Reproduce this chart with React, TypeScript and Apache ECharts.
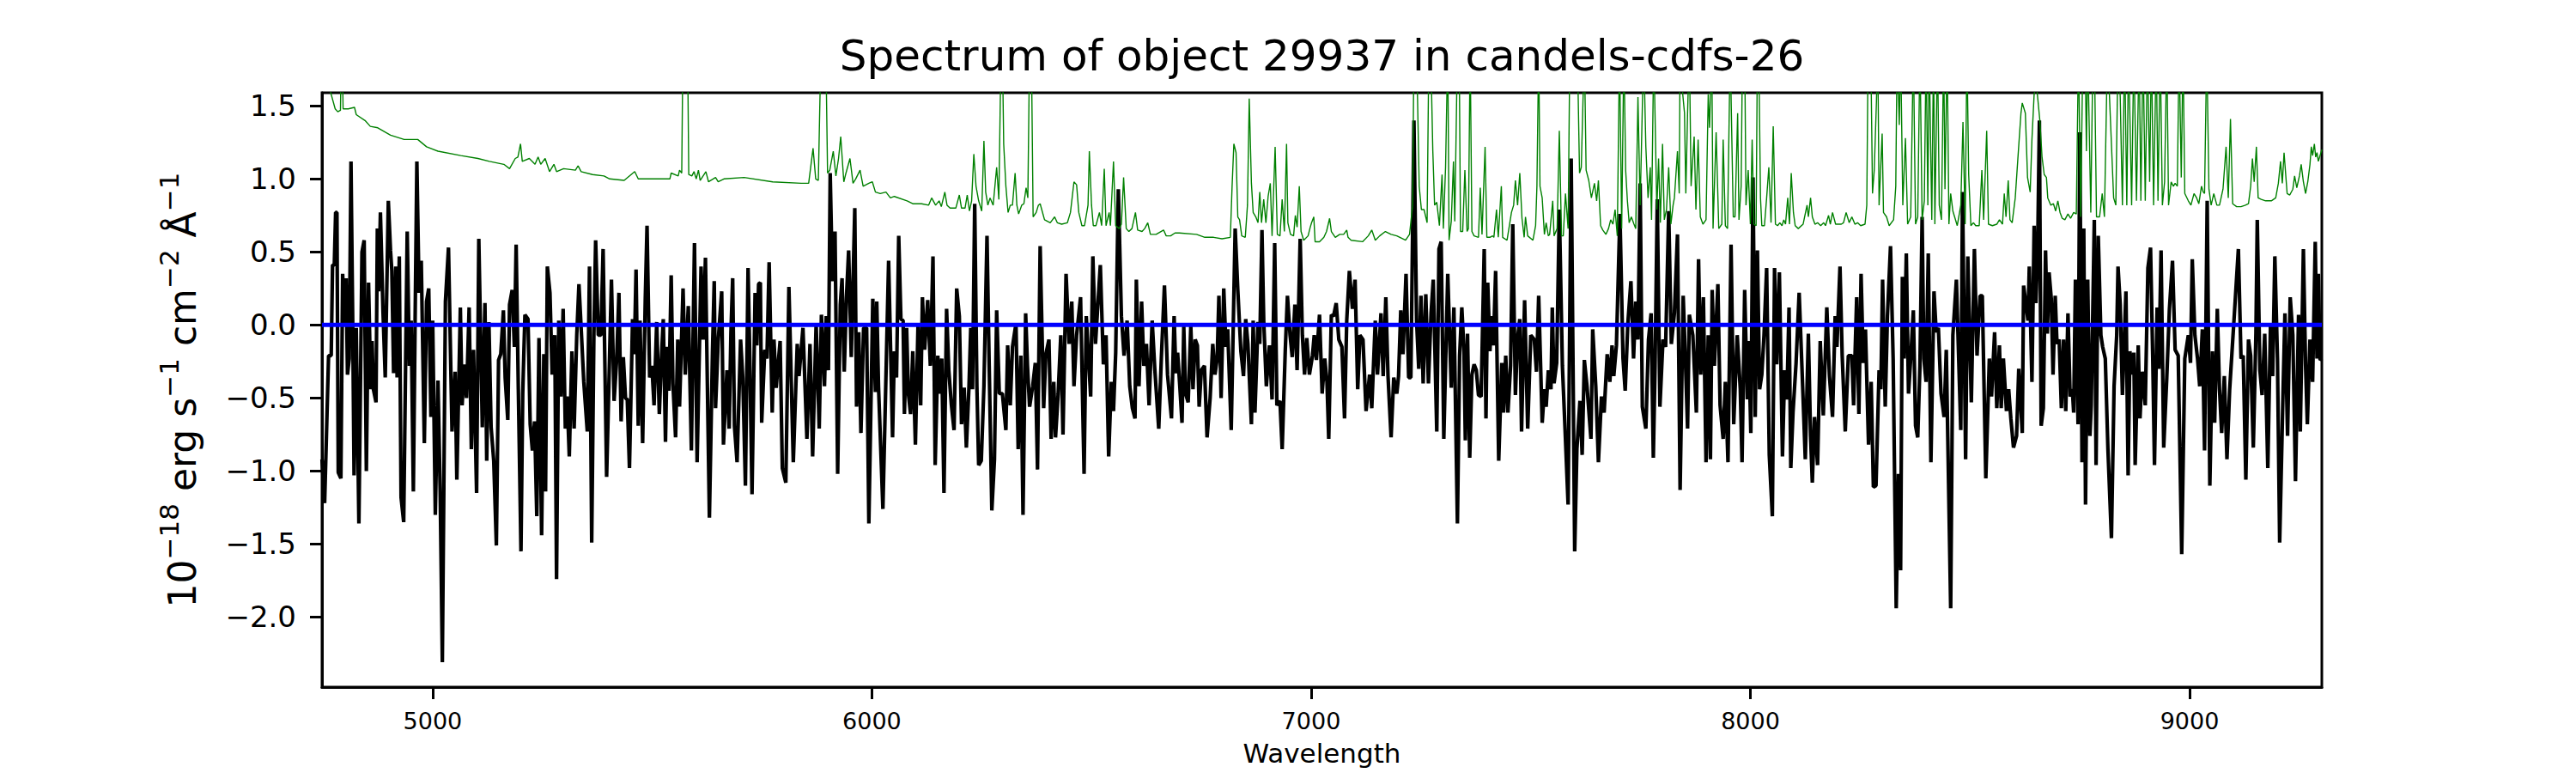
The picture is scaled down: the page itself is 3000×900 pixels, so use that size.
import React, { useEffect, useRef } from "react";
import * as echarts from "echarts";

// ---- Data ----
const titleText = "Spectrum of object 29937 in candels-cdfs-26";
const xAxisTitle = "Wavelength";
const xTicks = [5000, 6000, 7000, 8000, 9000];
const yTicks = [-2.0, -1.5, -1.0, -0.5, 0.0, 0.5, 1.0, 1.5];
const xMin = 4748;
const xMax = 9301;
const yMin = -2.48;
const yMax = 1.59;

const fluxWave = [
  4748, 4754, 4763, 4769, 4772, 4776, 4779, 4782, 4785, 4791, 4795, 4800, 4803, 4806, 4810, 4814, 4818, 4821, 4826, 4832,
  4839, 4844, 4849, 4854, 4859, 4862, 4865, 4871, 4874, 4877, 4881, 4887, 4892, 4899, 4904, 4907, 4911, 4916, 4919, 4924,
  4928, 4934, 4942, 4947, 4951, 4956, 4960, 4964, 4969, 4974, 4981, 4986, 4991, 4996, 5000, 5006, 5012, 5017, 5022, 5029,
  5036, 5044, 5051, 5055, 5063, 5067, 5072, 5077, 5083, 5088, 5093, 5100, 5105, 5113, 5119, 5123, 5128, 5133, 5139, 5145,
  5150, 5155, 5161, 5165, 5171, 5175, 5181, 5186, 5190, 5195, 5201, 5205, 5210, 5217, 5222, 5227, 5232, 5237, 5242, 5248,
  5253, 5257, 5261, 5267, 5272, 5278, 5282, 5287, 5292, 5297, 5302, 5306, 5311, 5317, 5322, 5328, 5333, 5338, 5344, 5352,
  5357, 5362, 5367, 5371, 5377, 5383, 5388, 5396,
  5407, 5413, 5419, 5424, 5429, 5434, 5439, 5443, 5448, 5455, 5459, 5463, 5468, 5472, 5478, 5484, 5488, 5494, 5499, 5504,
  5510, 5516, 5520, 5525, 5530, 5534, 5538, 5543, 5547, 5553, 5558, 5562, 5570, 5575, 5582, 5589, 5596, 5602, 5611, 5616,
  5621, 5630, 5637, 5641, 5644, 5650, 5658, 5662, 5670, 5675, 5679, 5683, 5687, 5693, 5701, 5706, 5712, 5718, 5722, 5727,
  5734, 5738, 5742, 5746, 5749, 5756, 5761, 5766, 5773, 5777, 5782, 5791, 5796, 5804, 5811, 5821, 5830, 5834, 5843, 5852,
  5859, 5865, 5873, 5880, 5885, 5892, 5896, 5901, 5905, 5910, 5916, 5922, 5928, 5932, 5937, 5942, 5947, 5953, 5961, 5965,
  5970, 5975, 5981, 5988, 5993, 6002, 6008, 6011, 6015, 6025, 6038, 6047,
  6051, 6056, 6061, 6066, 6071, 6074, 6079, 6083, 6088, 6093, 6099, 6105, 6111, 6115, 6120, 6127, 6133, 6139, 6144, 6150,
  6154, 6159, 6164, 6170, 6175, 6181, 6187, 6193, 6199, 6204, 6210, 6215, 6221, 6225, 6229, 6234, 6239, 6243, 6249, 6255,
  6262, 6267, 6273, 6279, 6284, 6290, 6297, 6305, 6309, 6315, 6320, 6328, 6333, 6339, 6344, 6350, 6354, 6359, 6366, 6372,
  6377, 6383, 6391, 6396, 6403, 6408, 6414, 6418, 6424, 6430, 6435, 6442, 6449, 6455, 6460, 6466, 6475, 6483, 6488, 6498,
  6503, 6509, 6514, 6520, 6527, 6533, 6539, 6545, 6550, 6555, 6561, 6568, 6574, 6581, 6587, 6593, 6599, 6602, 6608, 6614,
  6619, 6625, 6631, 6638, 6644, 6653, 6659, 6666, 6673, 6682, 6688,
  6692, 6696, 6701, 6706, 6710, 6714, 6720, 6726, 6731, 6736, 6741, 6745, 6750, 6757, 6763, 6770, 6776, 6781, 6786, 6790,
  6795, 6801, 6806, 6810, 6818, 6827, 6833, 6840, 6846, 6851, 6856, 6859, 6864, 6868, 6872, 6879, 6883, 6888, 6892, 6898,
  6905, 6911, 6917, 6922, 6929, 6934, 6941, 6946, 6952, 6957, 6963, 6968, 6975, 6980, 6985, 6990, 6996, 7003, 7007, 7012,
  7019, 7025, 7031, 7036, 7040, 7046, 7051, 7057, 7063, 7070, 7076, 7081, 7087, 7094, 7100, 7106, 7111, 7118, 7125, 7133,
  7138, 7146, 7151, 7159, 7164, 7170, 7175, 7182, 7188, 7195, 7199, 7204, 7209, 7216, 7222, 7227, 7234, 7240, 7245, 7250,
  7255, 7261, 7267, 7273, 7278, 7286, 7291, 7296, 7302, 7311, 7319, 7325, 7333,
  7338, 7343, 7348, 7351, 7356, 7361, 7366, 7371, 7376, 7381, 7387, 7394, 7398, 7402, 7407, 7411, 7415, 7420, 7427, 7434,
  7438, 7443, 7448, 7454, 7459, 7465, 7470, 7475, 7479, 7486, 7493, 7500, 7508, 7513, 7518, 7526, 7531, 7535, 7540, 7546,
  7549, 7553, 7559, 7565, 7572, 7578, 7585, 7592, 7600, 7605, 7612, 7617, 7622, 7628, 7637, 7641, 7648, 7654, 7661, 7667,
  7674, 7680, 7685, 7689, 7695, 7703, 7710, 7715, 7721, 7728, 7734, 7739, 7744, 7749, 7754, 7762, 7768, 7774, 7779, 7783,
  7788, 7794, 7801, 7807, 7814, 7820, 7827, 7834, 7840, 7847, 7852, 7857, 7861, 7869, 7877, 7882, 7887, 7893, 7899, 7904,
  7909, 7913, 7918, 7926, 7931, 7938, 7943, 7949, 7956, 7962, 7970, 7977, 7981,
  7987, 7993, 7996, 8001, 8006, 8011, 8016, 8021, 8026, 8031, 8037, 8043, 8050, 8055, 8060, 8066, 8073, 8078, 8083, 8088,
  8092, 8097, 8104, 8111, 8119, 8125, 8132, 8137, 8141, 8146, 8153, 8159, 8166, 8174, 8180, 8187, 8193, 8197, 8204, 8209,
  8216, 8223, 8231, 8235, 8242, 8247, 8252, 8257, 8262, 8269, 8275, 8280, 8286, 8293, 8297, 8301, 8307, 8312, 8319, 8325,
  8332, 8337, 8342, 8346, 8350, 8355, 8360, 8366, 8371, 8376, 8381, 8386, 8391, 8395, 8400, 8405, 8411, 8418, 8423, 8428,
  8434, 8441, 8446, 8456, 8461, 8469, 8479, 8483, 8490, 8495, 8503, 8510, 8516, 8523, 8528, 8536, 8544, 8549, 8556, 8561,
  8567, 8571, 8576, 8583, 8588, 8593, 8599, 8606, 8611, 8619, 8622,
  8632, 8635, 8641, 8646, 8650, 8654, 8658, 8662, 8667, 8672, 8676, 8680, 8685, 8689, 8694, 8698, 8703, 8708, 8713, 8718,
  8723, 8728, 8733, 8736, 8740, 8746, 8750, 8755, 8759, 8763, 8768, 8773, 8776, 8783, 8787, 8792, 8798, 8802, 8808, 8814,
  8822, 8828, 8834, 8837, 8842, 8847, 8855, 8860, 8864, 8869, 8873, 8876, 8883, 8887, 8892, 8899, 8905, 8911, 8916, 8920,
  8926, 8930, 8935, 8941, 8948, 8954, 8961, 8967, 8974, 8982, 8989, 8997, 9002, 9006, 9012, 9018, 9023, 9029, 9034, 9040,
  9046, 9052, 9057, 9063, 9068, 9073, 9079, 9085, 9091, 9098, 9102, 9111, 9117, 9122, 9128, 9134, 9139, 9145, 9151, 9154,
  9160, 9165, 9171, 9178, 9184, 9189, 9194, 9200, 9205, 9212, 9217, 9223, 9229, 9235, 9241, 9248, 9252, 9259, 9264, 9268,
  9274, 9280, 9286, 9290, 9293, 9297, 9301,
];

const fluxValue = [
  -0.92, -1.22, -0.21, -0.21, 0.41, 0.41, 0.77, 0.77, -1.01, -1.05, 0.35, 0.0, 0.32, -0.34, -0.23, 1.12, 0.0, -1.03, -0.02, -1.36,
  0.5, 0.58, -1.0, 0.29, -0.44, -0.11, -0.44, -0.53, 0.66, 0.23, 0.77, 0.08, -0.36, 0.85, 0.51, 0.37, -0.33, 0.4, -0.36, 0.47,
  -1.18, -1.35, 0.64, -0.28, 0.03, -1.14, 0.03, 1.12, 0.22, 0.44, -0.81, 0.16, 0.25, -0.63, 0.03, -1.3, -0.38, -1.13, -2.31, 0.16,
  0.53, -0.73, -0.32, -1.06, 0.12, -0.55, -0.27, -0.5, 0.12, -0.85, -0.17, -1.15, 0.59, -0.7, 0.15, -0.93, 0.02, -0.7, -0.93, -1.51,
  -0.24, -0.2, 0.1, -0.36, -0.65, 0.14, 0.24, -0.15, 0.55, -0.44, -1.55, -0.47, 0.07, 0.04, -0.68, -0.86, -0.66, -1.31, -0.09, -1.44,
  -0.2, -1.14, 0.4, 0.22, -0.34, -0.07, -1.74, 0.03, -0.49, 0.11, -0.71, -0.49, -0.9, -0.18, -0.71, -0.07, 0.28, -0.02, -0.39, -0.73,
  0.4, -1.49, -0.07, 0.58, -0.07, -0.07, 0.52, -1.04,
  0.31, -0.52, -0.23, 0.22, -0.66, -0.22, -0.5, -0.51, -0.98, 0.04, -0.2, 0.38, -0.69, 0.03, -0.81, 0.18, 0.68, -0.36, -0.28, -0.55,
  0.02, -0.61, -0.28, 0.04, -0.8, -0.15, -0.45, 0.34, -0.4, -0.77, -0.1, -0.56, 0.25, -0.34, 0.13, -0.86, 0.56, -0.94, 0.4, -0.1,
  0.46, -1.32, -0.18, 0.3, -0.57, -0.11, 0.23, -0.82, -0.31, -0.71, -0.05, 0.32, -0.69, -0.94, -0.1, -0.36, -1.1, 0.39, -0.23, -1.16,
  0.22, -0.14, 0.28, 0.29, -0.67, -0.17, -0.23, 0.43, -0.6, -0.1, -0.43, -0.11, -0.98, -1.08, 0.26, -0.94, -0.13, -0.35, -0.02, -0.78,
  -0.13, -0.9, 0.01, -0.71, 0.07, -0.42, 0.06, -0.31, 1.04, 0.3, 0.64, -1.02, 0.14, 0.32, -0.32, 0.19, 0.51, -0.22, 0.8, -0.56,
  -0.05, -0.74, -0.02, -0.02, -1.36, 0.18, -0.46, 0.16, -0.42, -1.26, 0.44, -0.77,
  -0.18, -0.36, 0.61, 0.04, 0.03, -0.61, -0.02, -0.47, -0.61, -0.18, -0.82, 0.01, -0.55, 0.19, -0.17, 0.17, -0.28, 0.47, -0.96, -0.21,
  -0.47, -0.23, -1.15, 0.11, -0.31, -0.55, -0.72, 0.25, 0.06, -0.68, -0.43, -0.84, -0.42, -0.02, -0.44, 0.83, -0.42, -0.96, -0.93, -0.42,
  0.61, -0.28, -1.27, -0.92, 0.1, -0.47, -0.47, -0.72, -0.14, -0.55, -0.15, 0.01, -0.85, -0.21, -1.3, 0.08, -0.27, -0.56, -0.42, -0.26,
  -0.99, 0.54, -0.57, -0.2, -0.1, -0.78, -0.39, -0.77, -0.47, -0.07, -0.75, 0.35, -0.13, 0.16, -0.42, -0.07, 0.19, -1.02, 0.06, -0.49,
  0.47, -0.13, 0.12, 0.41, -0.27, -0.07, -0.9, -0.39, -0.59, -0.19, 0.93, 0.06, -0.21, 0.03, -0.42, -0.57, -0.64, 0.31, -0.42, 0.16,
  -0.28, -0.13, -0.55, 0.03, -0.3, -0.71, -0.22, 0.27, -0.34, -0.64, 0.06,
  -0.33, -0.19, -0.42, -0.67, -0.01, -0.47, -0.53, -0.01, -0.44, -0.1, -0.14, -0.56, -0.31, -0.28, -0.77, -0.5, -0.13, -0.34, -0.23, 0.2,
  -0.5, 0.25, -0.15, -0.03, -0.72, 0.66, 0.24, -0.18, -0.35, 0.04, -0.13, -0.34, -0.68, 0.03, -0.6, 0.02, -0.13, 0.65, 0.03, -0.42,
  -0.14, -0.51, 0.56, -0.55, -0.52, -0.85, -0.18, 0.2, -0.07, -0.22, 0.14, -0.31, 0.59, -0.07, -0.34, -0.09, -0.34, -0.21, -0.07, -0.24,
  0.07, -0.47, -0.23, -0.39, -0.78, 0.07, 0.06, 0.15, -0.1, -0.15, -0.64, 0.03, 0.37, 0.11, 0.31, -0.44, -0.07, -0.1, -0.59, -0.34,
  -0.57, 0.03, -0.34, 0.08, -0.35, 0.19, -0.35, -0.77, -0.36, -0.47, -0.35, 0.1, -0.2, 0.35, -0.36, -0.36, 1.4, 0.03, -0.3, 0.2,
  -0.4, 0.21, -0.4, 0.08, 0.31, -0.73, 0.52, 0.57, -0.78, 0.35, -0.43, 0.12, -1.36,
  -0.21, 0.12, -0.18, -0.79, -0.06, -0.91, -0.34, -0.27, -0.31, -0.48, -0.49, 0.52, -0.64, 0.29, -0.18, 0.06, -0.14, 0.37, -0.93, -0.26,
  -0.6, -0.21, -0.6, -0.28, 0.69, -0.48, -0.09, 0.04, -0.73, 0.17, -0.71, -0.07, -0.1, -0.32, 0.2, -0.67, -0.44, -0.56, -0.31, -0.44,
  0.12, -0.4, -0.26, 0.79, -0.28, -0.71, -1.23, 1.14, -1.55, -0.85, -0.52, -0.89, -0.24, -0.42, -0.78, -0.03, -0.42, -0.94, -0.49, -0.6,
  -0.2, -0.39, -0.14, -0.35, -0.14, 0.76, -0.23, -0.45, 0.01, 0.3, -0.23, 0.16, -0.1, 0.97, -0.56, -0.71, -0.1, 0.08, -0.91, -0.28,
  0.86, -0.56, -0.1, -0.15, 0.78, -0.13, 0.08, 0.62, -1.13, 0.2, -0.23, -0.71, 0.07, -0.07, -0.6, 0.45, -0.34, 0.19, -0.94, -0.07,
  -0.92, 0.24, -0.28, 0.28, -0.55, -0.78, -0.39, -0.94, 0.55, -0.68, -0.07, -0.44, -0.94,
  0.24, -0.51, -0.11, -0.74, 1.01, -0.63, 0.51, -0.44, -0.34, -0.07, 0.39, -0.89, -1.31, 0.39, -0.27, 0.36, -0.9, -0.31, -0.51, 0.12,
  -0.98, -0.6, -0.26, 0.22, -0.42, -0.92, -0.06, -0.76, -1.08, -0.63, -0.96, -0.11, -0.62, 0.12, -0.35, -0.63, 0.06, -0.15, 0.4, -0.21,
  -0.73, -0.21, -0.21, -0.55, 0.19, -0.61, 0.35, -0.26, -0.03, -0.82, -0.39, -1.11, -1.1, -0.31, -0.44, 0.31, -0.56, 0.06, 0.54, -0.23,
  -1.94, -1.02, -1.68, 0.33, -0.23, 0.49, -0.47, -0.18, 0.1, -0.69, -0.77, -0.28, 0.74, -0.23, -0.39, 0.49, -0.94, 0.23, -0.05, -0.02,
  -0.47, -0.63, -0.17, -1.94, -0.07, 0.31, -0.72, 0.91, -0.92, 0.47, -0.53, 0.52, -0.21, 0.2, 0.2, -1.05, -0.23, -0.49, -0.05, -0.57,
  -0.14, -0.57, -0.23, -0.59, -0.44, -0.64, -0.84, -0.76, -0.3, -0.74, 0.27,
  0.03, 0.4, -0.39, 0.68, 0.15, 0.51, 1.4, -0.69, -0.57, 0.51, -0.06, 0.36, 0.18, -0.34, 0.2, -0.13, -0.1, -0.57, -0.1, -0.59,
  0.08, -0.49, -0.44, -0.6, 0.31, -0.68, 1.32, -0.94, 0.66, -1.23, 0.31, -0.76, -0.55, 0.72, -0.96, 0.61, -0.07, -0.15, -0.23, -0.85,
  -1.46, -0.42, -0.07, 0.4, 0.14, -0.48, 0.23, -1.03, -0.18, -0.34, -0.19, -0.96, -0.14, -0.64, -0.32, -0.55, 0.39, 0.53, -0.22, -0.96,
  0.12, -0.3, 0.51, -0.84, -0.36, 0.11, 0.44, -0.17, -0.21, -1.57, -0.23, -0.07, -0.26, 0.45, -0.07, -0.23, -0.42, -0.03, -0.86, 0.85,
  -1.1, -0.18, -0.67, 0.11, -0.44, -0.74, -0.35, -0.92, -0.45, -0.11, 0.08, 0.52, -0.23, -0.21, -1.06, -0.1, -0.21, -0.84, -0.05, 0.72,
  -0.31, -0.48, -0.06, -0.98, -0.01, -0.35, 0.47, -0.23, -1.49, -0.55, 0.08, -0.76, 0.19, -0.07, -1.07, 0.07, -0.73, 0.52, -0.28, -0.68,
  -0.1, -0.39, 0.57, -0.23, 0.35, -0.24, -0.23,
];

const errWave = [
  4748, 4767, 4778, 4784, 4790, 4792, 4794, 4796, 4808, 4822, 4826, 4846, 4858, 4875, 4904, 4935, 4966, 4986, 5012, 5064,
  5103, 5129, 5162, 5175, 5188, 5194, 5200, 5204, 5220, 5233, 5240, 5246, 5256, 5266, 5276, 5282, 5298, 5325, 5331, 5338,
  5364, 5390, 5403,
  5436, 5460, 5468, 5540, 5543, 5559, 5562, 5567, 5570, 5577, 5580, 5583, 5590, 5595, 5600, 5605, 5609, 5622, 5628, 5644,
  5650, 5663, 5709, 5774, 5839, 5856, 5866, 5872, 5878, 5884, 5895, 5899, 5904, 5912, 5918, 5924, 5929, 5936, 5940, 5950,
  5957, 5963, 5973, 5980, 5993, 6001, 6008, 6019, 6032, 6042,
  6051, 6080, 6093, 6113, 6129, 6136, 6145, 6153, 6158, 6166, 6171, 6178, 6191, 6199, 6204, 6212, 6217, 6222, 6227, 6232,
  6237, 6243, 6250, 6255, 6259, 6264, 6269, 6276, 6284, 6289, 6294, 6297, 6300, 6305, 6310, 6315, 6320, 6326, 6330, 6334,
  6341, 6346, 6351, 6355, 6359, 6363, 6367, 6374, 6379, 6383, 6393, 6406, 6416, 6422, 6432, 6445, 6452, 6460, 6466, 6471,
  6478, 6484, 6492, 6495, 6500, 6504, 6510, 6518, 6523, 6529, 6533, 6540, 6543, 6550, 6555, 6563, 6568, 6573, 6579, 6585,
  6592, 6600, 6605, 6615, 6621, 6628, 6634, 6647, 6664, 6670, 6680, 6690,
  6700, 6739, 6758, 6778, 6797, 6816, 6820, 6824, 6829, 6833, 6837, 6842, 6850, 6855, 6859, 6864, 6868, 6874, 6879, 6883,
  6887, 6892, 6897, 6902, 6907, 6911, 6918, 6923, 6929, 6934, 6939, 6944, 6947, 6953, 6960, 6964, 6968, 6973, 6977, 6983,
  6993, 6998, 7001, 7006, 7009, 7019, 7029, 7035, 7042, 7046, 7055, 7065, 7074, 7081, 7084, 7091, 7117, 7130, 7138, 7146,
  7156, 7169, 7182, 7195, 7202, 7215, 7224, 7231, 7234, 7240, 7246, 7251, 7257, 7264, 7268, 7272, 7277, 7281, 7286, 7292,
  7298, 7301, 7306, 7311, 7314, 7319, 7324, 7327,
  7333, 7337, 7340, 7345, 7350, 7355, 7358, 7362, 7366, 7371, 7381, 7385, 7389, 7396, 7400, 7407, 7413, 7416, 7422, 7426,
  7433, 7436, 7446, 7456, 7461, 7465, 7470, 7475, 7480, 7485, 7488, 7493, 7505, 7511, 7514, 7518, 7521, 7526, 7531, 7535,
  7540, 7543, 7550, 7553, 7560, 7565, 7570, 7574, 7579, 7585, 7589, 7606, 7611, 7615, 7622, 7626, 7632, 7638, 7645, 7650,
  7654, 7659, 7664, 7671, 7677, 7682, 7687, 7692, 7697, 7702, 7707, 7712, 7716, 7720, 7724, 7729, 7735, 7739, 7744, 7749,
  7752, 7757, 7762, 7767, 7772, 7775, 7780, 7787, 7791, 7795, 7800, 7804, 7809, 7814, 7819, 7824, 7827, 7834, 7838, 7840,
  7846, 7850, 7853, 7857, 7861, 7865, 7872, 7876, 7881, 7886, 7892, 7899, 7904, 7907, 7912, 7915, 7922, 7928, 7935, 7938,
  7943, 7948, 7954, 7961, 7965, 7971, 7974, 7979,
  7982, 7987, 7990, 7995, 8000, 8004, 8008, 8013, 8016, 8019, 8023, 8026, 8032, 8037, 8042, 8047, 8052, 8057, 8062, 8067,
  8072, 8076, 8080, 8085, 8089, 8093, 8098, 8102, 8109, 8120, 8129, 8132, 8137, 8141, 8147, 8153, 8160, 8167, 8171, 8178,
  8182, 8187, 8194, 8207, 8212, 8218, 8225, 8231, 8238, 8244, 8251, 8261, 8265, 8268, 8274, 8278, 8282, 8287, 8290, 8293,
  8300, 8303, 8310, 8316, 8326, 8331, 8334, 8339, 8342, 8347, 8353, 8358, 8365, 8371, 8376, 8381, 8386, 8391, 8396, 8400,
  8404, 8407, 8413, 8417, 8420, 8426, 8430, 8435, 8440, 8443, 8448, 8452, 8456, 8461, 8466, 8471, 8479, 8484, 8489, 8493,
  8497, 8502, 8508, 8513, 8521, 8527, 8531, 8538, 8542, 8551, 8561, 8567, 8574, 8578, 8582, 8587, 8591, 8596, 8603, 8609,
  8616, 8619, 8626,
  8631, 8637, 8641, 8646, 8651, 8654, 8659, 8664, 8669, 8674, 8677, 8684, 8690, 8695, 8700, 8705, 8710, 8716, 8723, 8729,
  8736, 8742, 8747, 8752, 8757, 8762, 8765, 8768, 8775, 8780, 8783, 8788, 8795, 8801, 8806, 8813, 8827, 8832, 8837, 8842,
  8847, 8852, 8857, 8861, 8868, 8873, 8879, 8885, 8889, 8894, 8899, 8904, 8909, 8913, 8918, 8924, 8928, 8933, 8938, 8943,
  8948, 8952, 8958, 8963, 8967, 8972, 8976, 8981, 8985, 8989, 8997, 9003, 9010, 9016, 9021, 9027, 9031, 9034, 9039, 9044,
  9049, 9055, 9062, 9068, 9076, 9083, 9088, 9093, 9098, 9107, 9117, 9127, 9134, 9139, 9143, 9147, 9152, 9156, 9163, 9173,
  9186, 9196, 9202, 9207, 9211, 9215, 9222, 9228, 9235, 9239, 9244, 9250, 9254, 9259, 9264, 9269, 9274, 9277, 9280, 9284,
  9287, 9290, 9293, 9301,
];

const errValue = [
  1.75, 1.6, 1.48, 1.46, 1.47, 1.9, 1.9, 1.48, 1.48, 1.49, 1.44, 1.4, 1.36, 1.35, 1.3, 1.27, 1.27, 1.22, 1.19, 1.16,
  1.14, 1.12, 1.1, 1.07, 1.14, 1.15, 1.24, 1.12, 1.14, 1.1, 1.15, 1.1, 1.14, 1.05, 1.1, 1.05, 1.07, 1.06, 1.09, 1.05,
  1.03, 1.02, 1.0,
  0.99, 1.05, 1.0, 1.0, 1.04, 1.02, 1.06, 1.04, 2.0, 2.0, 2.0, 1.03, 1.02, 1.05, 1.0, 1.06, 0.99, 1.05, 0.98, 1.01,
  0.98, 1.0, 1.01, 0.98, 0.97, 0.97, 1.21, 1.0, 0.99, 1.9, 1.9, 1.04, 1.06, 1.19, 1.02, 1.14, 1.29, 0.98, 1.03, 1.14,
  0.97, 1.0, 1.06, 0.95, 0.97, 0.98, 0.91, 0.9, 0.91, 0.87,
  0.88, 0.85, 0.83, 0.83, 0.82, 0.87, 0.82, 0.85, 0.81, 0.91, 0.82, 0.8, 0.8, 0.89, 0.8, 0.8, 0.89, 0.78, 0.85, 1.17,
  0.95, 0.85, 0.78, 1.26, 0.91, 0.82, 0.87, 0.82, 1.08, 0.86, 1.9, 1.9, 1.24, 0.95, 0.77, 0.82, 0.82, 1.04, 0.82, 0.76,
  0.82, 0.83, 0.94, 0.87, 1.9, 1.9, 0.74, 0.77, 0.82, 0.83, 0.72, 0.7, 0.74, 0.7, 0.69, 0.7, 0.77, 0.98, 0.96, 0.77,
  0.68, 0.68, 0.82, 1.19, 0.82, 0.68, 0.68, 0.77, 0.68, 1.07, 0.68, 0.77, 0.68, 1.12, 0.68, 0.66, 0.69, 1.01, 0.66, 0.64,
  0.66, 0.77, 0.65, 0.64, 0.66, 0.7, 0.62, 0.62, 0.65, 0.61, 0.61, 0.63,
  0.63, 0.62, 0.6, 0.6, 0.59, 0.6, 0.95, 1.24, 1.18, 0.74, 0.72, 0.61, 0.6, 0.82, 1.55, 0.97, 0.77, 0.74, 0.7, 0.91,
  0.7, 0.86, 0.7, 0.88, 0.97, 0.61, 1.22, 0.62, 0.61, 0.86, 0.64, 1.24, 0.7, 0.62, 0.61, 0.75, 0.67, 0.95, 0.64, 0.58,
  0.61, 0.67, 0.7, 0.74, 0.57, 0.57, 0.6, 0.64, 0.73, 0.64, 0.6, 0.62, 0.62, 0.65, 0.6, 0.58, 0.57, 0.61, 0.65, 0.58,
  0.61, 0.64, 0.62, 0.61, 0.6, 0.58, 0.62, 0.82, 1.9, 1.9, 0.95, 0.79, 0.79, 0.7, 1.9, 1.9, 1.19, 0.82, 0.84, 0.68,
  1.03, 0.66, 1.08, 1.9, 0.58, 0.71, 1.12, 0.71,
  1.9, 1.9, 0.64, 0.64, 1.06, 0.64, 0.66, 1.9, 0.64, 0.61, 0.6, 0.94, 0.62, 1.22, 0.6, 0.6, 0.61, 0.6, 0.79, 0.6,
  0.95, 0.6, 0.58, 0.77, 0.82, 0.99, 0.82, 1.04, 0.73, 0.6, 0.74, 0.61, 0.58, 0.68, 0.95, 1.9, 0.95, 0.87, 0.62, 0.7,
  0.61, 0.62, 0.85, 0.61, 0.66, 1.33, 0.61, 0.61, 0.9, 0.66, 1.9, 1.9, 1.04, 1.08, 1.9, 1.06, 0.99, 0.87, 0.97, 0.85,
  0.99, 0.68, 0.65, 0.62, 0.66, 0.72, 0.69, 0.79, 0.61, 1.9, 0.66, 1.9, 1.06, 0.85, 0.7, 0.74, 0.69, 0.66, 1.56, 0.82,
  1.22, 1.9, 1.22, 0.87, 1.08, 0.72, 1.9, 0.79, 1.14, 0.7, 1.24, 0.72, 0.79, 1.08, 0.69, 0.82, 0.87, 1.19, 0.9, 1.9,
  1.58, 1.45, 0.9, 1.45, 1.9, 0.95, 1.29, 0.79, 1.27, 0.74, 0.69, 0.72, 1.58, 1.35, 1.9, 0.66, 1.32, 0.66, 0.69, 1.27,
  0.68, 0.66, 1.9, 0.74, 0.74, 1.45, 0.72, 0.95,
  1.9, 1.9, 0.82, 1.06, 0.69, 1.27, 0.69, 0.68, 1.9, 1.9, 0.87, 0.68, 0.68, 0.87, 1.08, 0.7, 1.36, 0.69, 0.68, 0.7,
  0.68, 0.72, 0.69, 0.87, 0.69, 1.04, 0.77, 0.68, 0.66, 0.69, 0.82, 0.74, 0.87, 0.74, 0.69, 0.7, 0.68, 0.7, 0.68, 0.75,
  0.69, 0.77, 0.69, 0.69, 0.7, 0.77, 0.7, 0.74, 0.69, 0.7, 0.68, 0.69, 0.82, 1.9, 1.9, 0.9, 1.06, 1.53, 1.9, 0.82,
  1.31, 0.77, 0.74, 0.68, 0.72, 0.95, 1.9, 1.37, 1.9, 0.82, 1.28, 0.69, 0.74, 1.9, 0.69, 0.74, 1.9, 0.72, 0.85, 1.9,
  0.82, 1.9, 0.72, 1.9, 0.69, 1.9, 0.82, 0.72, 1.9, 0.93, 1.9, 0.69, 0.9, 0.78, 0.73, 0.68, 0.82, 1.39, 0.69, 1.9,
  1.03, 0.68, 0.7, 0.68, 0.68, 1.06, 0.72, 1.33, 0.69, 0.68, 0.69, 0.72, 0.69, 0.9, 0.74, 0.99, 0.72, 0.7, 0.87, 1.14,
  1.45, 1.52, 1.45,
  1.01, 0.91, 1.27, 1.58, 1.65, 1.56, 1.4, 1.15, 1.03, 1.01, 0.87, 0.82, 0.83, 0.78, 0.85, 0.77, 0.73, 0.72, 0.76, 0.73,
  0.77, 0.76, 1.9, 0.74, 1.9, 1.9, 1.19, 1.9, 0.77, 1.9, 1.9, 0.74, 0.74, 0.9, 0.74, 1.9, 0.87, 0.82, 1.9, 1.56,
  0.82, 1.9, 0.82, 1.9, 0.82, 1.9, 0.85, 1.9, 0.85, 1.9, 0.85, 1.9, 0.98, 1.9, 0.82, 1.9, 0.85, 1.9, 0.82, 0.98,
  1.9, 0.82, 0.98, 0.95, 0.97, 0.95, 1.9, 1.01, 1.9, 0.9, 0.85, 0.82, 0.9, 0.87, 0.83, 0.95, 0.91, 0.9, 1.9, 0.93,
  0.82, 0.9, 0.82, 0.82, 0.93, 1.22, 0.87, 1.41, 0.83, 0.81, 0.81, 0.82, 0.83, 0.95, 1.14, 0.98, 1.22, 0.87, 0.86, 0.85,
  0.85, 0.87, 0.97, 1.12, 0.97, 1.18, 0.9, 0.89, 0.93, 1.02, 0.94, 1.02, 1.1, 0.98, 0.9, 0.98, 1.1, 1.22, 1.16, 1.24,
  1.15, 1.18, 1.12, 1.2,
];

const FONT = "DejaVu Sans";

const fmtY = (v: number) => v.toFixed(1).replace("-", "\u2212");

export default function App() {
  const ref = useRef<HTMLDivElement>(null);

  useEffect(() => {
    document.body.style.margin = "0";
    if (!ref.current) return;
    const chart = echarts.init(ref.current, null, { renderer: "svg" });

    const flux = fluxWave.map((w, i) => [w, fluxValue[i]]);
    const err = errWave.map((w, i) => [w, errValue[i]]);
    const zero = [
      [xMin, 0],
      [xMax, 0],
    ];

    const gridLeft = 375;
    const gridTop = 108;
    const gridW = 2329;
    const gridH = 692;
    const cx = gridLeft + gridW / 2;

    chart.setOption({
      animation: false,
      backgroundColor: "#ffffff",
      grid: {
        left: gridLeft,
        top: gridTop,
        width: gridW,
        height: gridH,
        show: true,
        borderColor: "#000",
        borderWidth: 3,
        backgroundColor: "transparent",
        containLabel: false,
      },
      xAxis: {
        type: "value",
        min: xMin,
        max: xMax,
        splitLine: { show: false },
        axisLine: { show: true, onZero: false, lineStyle: { color: "#000", width: 3 } },
        axisTick: {
          show: true,
          inside: false,
          length: 14,
          lineStyle: { color: "#000", width: 3 },
          customValues: xTicks,
        },
        axisLabel: {
          show: true,
          margin: 26,
          fontFamily: FONT,
          fontSize: 27,
          color: "#000",
          customValues: xTicks,
          formatter: (v: number) => String(v),
        },
      },
      yAxis: {
        type: "value",
        min: yMin,
        max: yMax,
        splitLine: { show: false },
        axisLine: { show: true, onZero: false, lineStyle: { color: "#000", width: 3 } },
        axisTick: {
          show: true,
          inside: false,
          length: 14,
          lineStyle: { color: "#000", width: 3 },
          customValues: yTicks,
        },
        axisLabel: {
          show: true,
          margin: 30,
          fontFamily: FONT,
          fontSize: 34,
          color: "#000",
          customValues: yTicks,
          formatter: (v: number) => fmtY(v),
        },
      },
      series: [
        {
          type: "line",
          data: flux,
          showSymbol: false,
          symbol: "none",
          silent: true,
          clip: true,
          z: 2,
          lineStyle: { color: "#000000", width: 4.2 },
        },
        {
          type: "line",
          data: err,
          showSymbol: false,
          symbol: "none",
          silent: true,
          clip: true,
          z: 3,
          lineStyle: { color: "#008000", width: 1.4 },
        },
        {
          type: "line",
          data: zero,
          showSymbol: false,
          symbol: "none",
          silent: true,
          clip: true,
          z: 4,
          lineStyle: { color: "#0000ff", width: 5 },
        },
      ],
      graphic: [
        {
          type: "text",
          x: cx,
          y: 65,
          silent: true,
          style: {
            text: titleText,
            fontFamily: FONT,
            fontSize: 50,
            fill: "#000",
            align: "center",
            verticalAlign: "middle",
          },
        },
        {
          type: "text",
          x: cx,
          y: 877,
          silent: true,
          style: {
            text: xAxisTitle,
            fontFamily: FONT,
            fontSize: 31,
            fill: "#000",
            align: "center",
            verticalAlign: "middle",
          },
        },
        {
          type: "text",
          x: 212,
          y: gridTop + gridH / 2,
          rotation: Math.PI / 2,
          silent: true,
          style: {
            text: "{n|10}{s|\u221218}{n| erg s}{s|\u22121}{n| cm}{s|\u22122}{n| \u00c5}{s|\u22121}",
            fontFamily: FONT,
            fill: "#000",
            align: "center",
            verticalAlign: "middle",
            rich: {
              n: { fontFamily: FONT, fontSize: 44, lineHeight: 62, verticalAlign: "middle", fill: "#000" },
              s: { fontFamily: FONT, fontSize: 31, lineHeight: 30, verticalAlign: "top", fill: "#000" },
            },
          },
        },
      ],
    });

    return () => {
      chart.dispose();
    };
  }, []);

  return <div ref={ref} style={{ width: 3000, height: 900 }} />;
}
